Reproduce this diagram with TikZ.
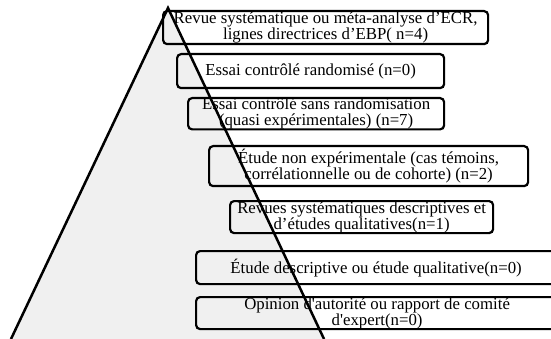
\documentclass[tikz,border=0pt]{standalone}
\usepackage{fontspec}
\setmainfont{Liberation Serif}
\usepackage{tikz}
\usetikzlibrary{positioning}
\definecolor{pyrfill}{HTML}{F0F0F0}

\begin{document}
\begin{tikzpicture}[x=1pt,y=-1pt,
    tierbox/.style={draw,line width=2.2pt,rounded corners=4pt,anchor=north west,
      align=center,inner sep=0pt,font=\fontsize{16.8}{16}\selectfont}]
  \clip (0,0) rectangle (551,339);

  % pyramid background
  \coordinate (apex) at (168,8);
  \coordinate (baseL) at (11,339);
  \coordinate (baseR) at (324,339);
  \fill[pyrfill] (apex) -- (baseL) -- (baseR) -- cycle;

  % levels of evidence
  \node[tierbox,minimum width=325pt,minimum height=33pt] (t1) at (162,10)
    {Revue systématique ou méta-analyse d’ECR,\\lignes directrices d’EBP( n=4)};
  \node[tierbox,minimum width=267pt,minimum height=34pt] (t2) at (176,53)
    {Essai contrôlé randomisé (n=0)};
  \node[tierbox,minimum width=256pt,minimum height=31pt] (t3) at (187,97)
    {Essai contrôlé sans randomisation\\(quasi expérimentales) (n=7)};
  \node[tierbox,minimum width=319pt,minimum height=40pt] (t4) at (208,145)
    {Étude non expérimentale (cas témoins,\\corrélationnelle ou de cohorte) (n=2)};
  \node[tierbox,minimum width=263pt,minimum height=32pt] (t5) at (229,200)
    {Revues systématiques descriptives et\\d’études qualitatives(n=1)};
  \node[tierbox,minimum width=360pt,minimum height=33pt] (t6) at (195,250)
    {Étude descriptive ou étude qualitative(n=0)};
  \node[tierbox,minimum width=362pt,minimum height=32pt] (t7) at (195,296)
    {Opinion d\textquotesingle autorité ou rapport de comité\\d\textquotesingle expert(n=0)};

  % pyramid sides
  \draw[line width=2.5pt] (baseL) -- (apex) -- (baseR);
\end{tikzpicture}
\end{document}
